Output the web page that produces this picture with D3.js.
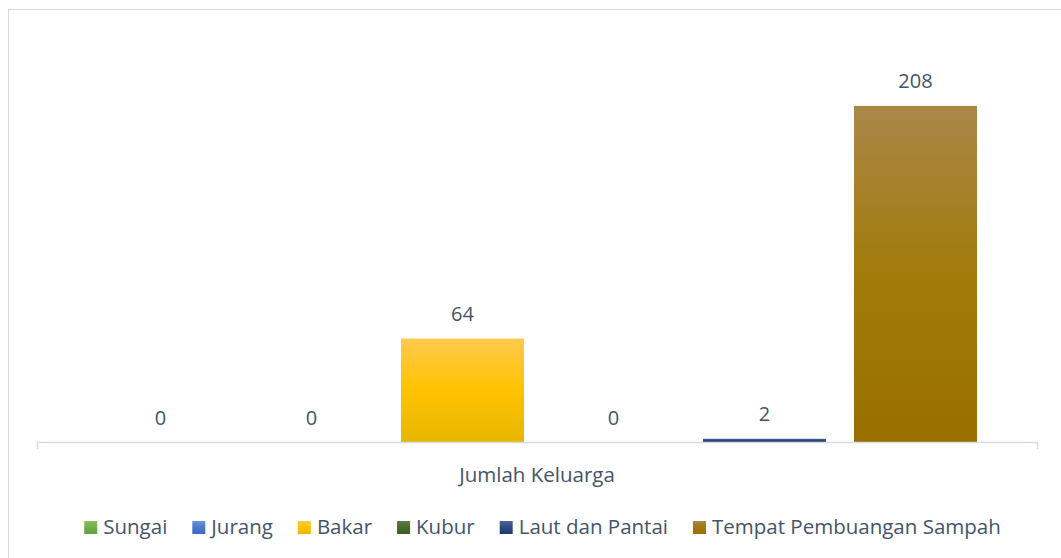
<!DOCTYPE html>
<html>
<head>
<meta charset="utf-8">
<script src="https://cdn.jsdelivr.net/npm/d3@7"></script>
<style>
    html, body { margin: 0; padding: 0; background: #fff; }
    #chart { width: 1061px; height: 558px; }
    text { font-family: "Open Sans", sans-serif; fill: #44546A; }
</style>
</head>
<body>
<div id="chart"></div>
<script>
//Datos
const categoria = ['Jumlah Keluarga'];
const series = ['Sungai', 'Jurang', 'Bakar', 'Kubur', 'Laut dan Pantai', 'Tempat Pembuangan Sampah'];
const valores = [0, 0, 64, 0, 2, 208];
const yTicks = [0, 50, 100, 150, 200, 250];

//Colores (arriba, medio, abajo) de cada degradado
const COLORES = [
    ['#86BF5F', '#72AF49', '#64A03B'],
    ['#6A93D8', '#4A79CD', '#3B69BC'],
    ['#FFC94C', '#FFC300', '#E6B600'],
    ['#5A7D40', '#466C2E', '#3B5F24'],
    ['#4D659A', '#2E4A80', '#1F3A6E'],
    ['#A98748', '#A27B0A', '#997000']
];
const COLOR_EJE = '#D6DCE4';

let width = 1061, height = 558;

let svg = d3.select('#chart')
    .append('svg')
        .attr('width', width)
        .attr('height', height);

//Borde del área del gráfico
svg.append('rect')
    .attr('x', 8.5)
    .attr('y', 9.5)
    .attr('width', 1068)
    .attr('height', 600)
    .attr('fill', 'none')
    .attr('stroke', '#D9D9D9');

//Degradados
let defs = svg.append('defs');
series.forEach(function(s, i) {
    let grad = defs.append('linearGradient')
        .attr('id', 'grad' + i)
        .attr('x1', 0).attr('y1', 0)
        .attr('x2', 0).attr('y2', 1);
    grad.append('stop').attr('offset', '0%').attr('stop-color', COLORES[i][0]);
    grad.append('stop').attr('offset', '50%').attr('stop-color', COLORES[i][1]);
    grad.append('stop').attr('offset', '100%').attr('stop-color', COLORES[i][2]);
});

//Escalas
let x0 = d3.scaleBand()
    .domain(categoria)
    .range([37, 1037]);

let x1 = d3.scaleBand()
    .domain(series)
    .range([x0(categoria[0]) + 48, x0(categoria[0]) + 954])
    .paddingInner(0.1854)
    .paddingOuter(0.0927);

let y = d3.scaleLinear()
    .domain([yTicks[0], yTicks[yTicks.length - 1]])
    .range([442, 38]);

//Barras
let g = svg.append('g');

g.selectAll('.bar')
    .data(valores)
    .enter()
    .append('rect')
    .attr('class', 'bar')
    .attr('x', function(d, i) { return x1(series[i]); })
    .attr('y', function(d) { return y(d); })
    .attr('width', x1.bandwidth())
    .attr('height', function(d) { return y(0) - y(d); })
    .attr('fill', function(d, i) { return 'url(#grad' + i + ')'; });

//Etiquetas de datos
g.selectAll('.label')
    .data(valores)
    .enter()
    .append('text')
    .attr('class', 'label')
    .attr('x', function(d, i) { return x1(series[i]) + x1.bandwidth() / 2; })
    .attr('y', function(d) { return y(d) - 17.5; })
    .attr('text-anchor', 'middle')
    .style('font-size', '20px')
    .text(function(d) { return d; });

//Eje X
let xAxis = svg.append('g')
    .attr('transform', 'translate(0,' + y(0) + ')')
    .call(d3.axisBottom(x0).tickSize(0).tickSizeOuter(7).tickFormat(''));

xAxis.select('.domain')
    .attr('stroke', COLOR_EJE)
    .attr('stroke-width', 1.5);

svg.append('text')
    .attr('x', x0(categoria[0]) + x0.bandwidth() / 2)
    .attr('y', 482)
    .attr('text-anchor', 'middle')
    .style('font-size', '20.5px')
    .text(categoria[0]);

//Leyenda
let legend = svg.append('g');
let items = legend.selectAll('.leg')
    .data(series)
    .enter()
    .append('g')
    .attr('class', 'leg');

items.append('rect')
    .attr('width', 13)
    .attr('height', 13)
    .attr('y', 521)
    .attr('fill', function(d, i) { return 'url(#grad' + i + ')'; });

items.append('text')
    .attr('x', 19)
    .attr('y', 534)
    .style('font-size', '20.5px')
    .text(function(d) { return d; });

let pos = 0, offsets = [];
items.each(function() {
    offsets.push(pos);
    pos += 19 + d3.select(this).select('text').node().getComputedTextLength() + 25;
});
let total = pos - 25;
let start = 542.5 - total / 2;
items.attr('transform', function(d, i) { return 'translate(' + (start + offsets[i]) + ',0)'; });
</script>
</body>
</html>
